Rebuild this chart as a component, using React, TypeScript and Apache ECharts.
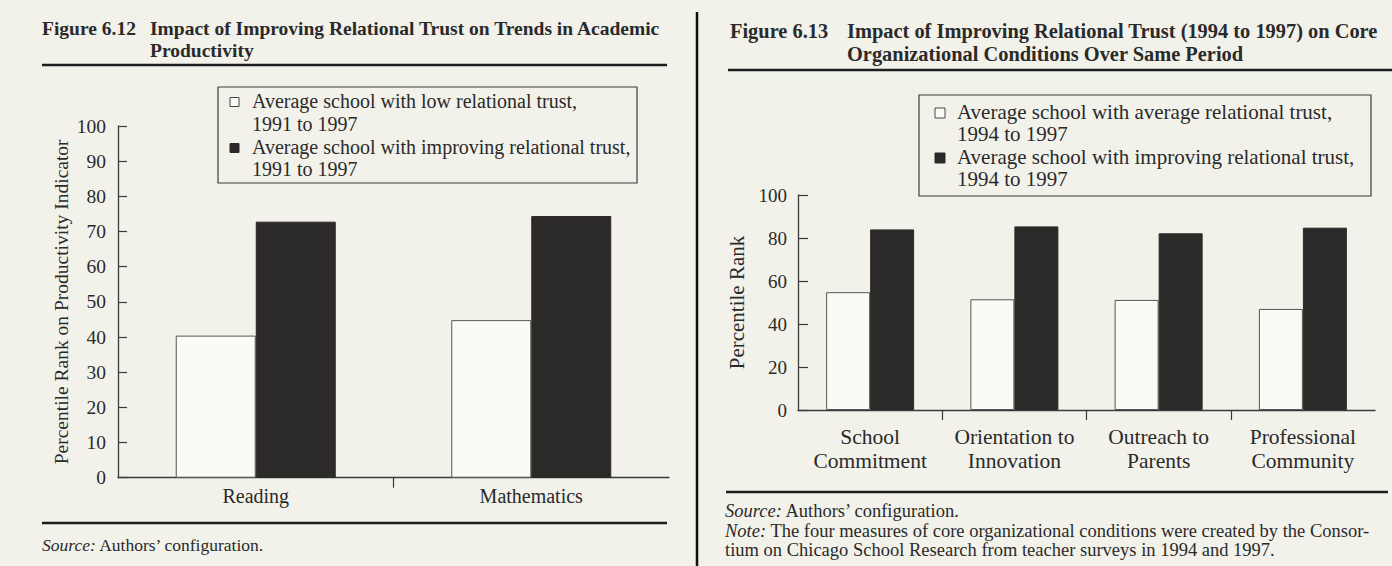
import React, { useEffect, useRef } from "react";
import * as echarts from "echarts";

const leftCategories = ["Reading", "Mathematics"];
const leftLowTrust = [40.4, 44.8];
const leftImproving = [72.8, 74.4];
const leftSeriesNames = [
  "Average school with low relational trust, 1991 to 1997",
  "Average school with improving relational trust, 1991 to 1997",
];
const leftLegendLines = [
  ["Average school with low relational trust,", "1991 to 1997"],
  ["Average school with improving relational trust,", "1991 to 1997"],
];
const leftYName = "Percentile Rank on Productivity Indicator";
const leftTitle = ["Impact of Improving Relational Trust on Trends in Academic", "Productivity"];

const rightCategories = ["School\nCommitment", "Orientation to\nInnovation", "Outreach to\nParents", "Professional\nCommunity"];
const rightAverageTrust = [54.8, 51.5, 51.2, 47];
const rightImproving = [84, 85.4, 82.2, 84.8];
const rightSeriesNames = [
  "Average school with average relational trust, 1994 to 1997",
  "Average school with improving relational trust, 1994 to 1997",
];
const rightLegendLines = [
  ["Average school with average relational trust,", "1994 to 1997"],
  ["Average school with improving relational trust,", "1994 to 1997"],
];
const rightYName = "Percentile Rank";
const rightTitle = ["Impact of Improving Relational Trust (1994 to 1997) on Core", "Organizational Conditions Over Same Period"];
const rightNote = [
  "The four measures of core organizational conditions were created by the Consor-",
  "tium on Chicago School Research from teacher surveys in 1994 and 1997.",
];

const FONT = "'Liberation Serif', 'DejaVu Serif', serif";
const INK = "#2a2a2a";
const BG = "#f2f2eb";
const DARK = "#2c2929";
const AXIS = "#3a3a3a";

function txt(x: number, y: number, text: string, size: number, extra: any = {}) {
  return {
    type: "text",
    x,
    y,
    silent: true,
    style: {
      text,
      fontFamily: FONT,
      fontSize: size,
      fill: INK,
      verticalAlign: "middle",
      align: "left",
      ...extra,
    },
  };
}

function richTxt(x: number, y: number, label: string, rest: string, size: number) {
  return {
    type: "text",
    x,
    y,
    silent: true,
    style: {
      text: "{i|" + label + "} " + rest,
      fontFamily: FONT,
      fontSize: size,
      fill: INK,
      verticalAlign: "middle",
      rich: { i: { fontStyle: "italic", fontFamily: FONT, fontSize: size, fill: INK } },
    },
  };
}

function hline(x1: number, x2: number, y: number, w: number) {
  return { type: "line", silent: true, shape: { x1, y1: y, x2, y2: y }, style: { stroke: "#1e1e1e", lineWidth: w } };
}

function legendBlock(
  x: number, y: number, w: number, h: number, lines: string[][], size: number,
  lineYs: number[], iconX: number, iconSize: number, textX: number
) {
  const els: any[] = [
    { type: "rect", silent: true, shape: { x, y, width: w, height: h }, style: { fill: "none", stroke: "#3a3a3a", lineWidth: 1.2 } },
  ];
  lines.forEach((pair, i) => {
    const cy = lineYs[i * 2];
    els.push({
      type: "rect",
      silent: true,
      shape: { x: iconX, y: cy - iconSize / 2 + 1, width: iconSize, height: iconSize },
      style: i === 0 ? { fill: "#fbfbf6", stroke: "#444", lineWidth: 1 } : { fill: DARK, stroke: DARK, lineWidth: 1 },
    });
    els.push(txt(textX, cy, pair[0], size));
    els.push(txt(textX, lineYs[i * 2 + 1], pair[1], size));
  });
  return els;
}

function boundaryAxis(gridIndex: number, n: number) {
  return {
    type: "category",
    gridIndex,
    position: "bottom",
    boundaryGap: false,
    data: Array.from({ length: n + 1 }, () => ""),
    axisLine: { show: false },
    axisLabel: { show: false },
    splitLine: { show: false },
    axisTick: { show: true, length: 10, interval: (i: number) => i > 0 && i < n, lineStyle: { color: AXIS, width: 1.2 } },
  };
}

export default function App() {
  const ref = useRef<HTMLDivElement>(null);
  useEffect(() => {
    if (!ref.current) return;
    const chart = echarts.init(ref.current, undefined, { renderer: "svg" });
    const axisLine = { show: true, lineStyle: { color: AXIS, width: 1.3 } };
    const option: any = {
      animation: false,
      backgroundColor: BG,
      grid: [
        { left: 118, top: 126, width: 551, height: 351.7 },
        { left: 798, top: 195, width: 577, height: 215 },
      ],
      xAxis: [
        {
          type: "category",
          gridIndex: 0,
          data: leftCategories,
          axisLine,
          axisTick: { show: false },
          axisLabel: { color: INK, fontFamily: FONT, fontSize: 20, margin: 8, interval: 0 },
        },
        {
          type: "category",
          gridIndex: 1,
          data: rightCategories,
          axisLine,
          axisTick: { show: false },
          axisLabel: { color: INK, fontFamily: FONT, fontSize: 21.5, margin: 15, lineHeight: 24, interval: 0 },
        },
        boundaryAxis(0, leftCategories.length),
        boundaryAxis(1, rightCategories.length),
      ],
      yAxis: [
        {
          type: "value",
          gridIndex: 0,
          min: 0,
          max: 100,
          interval: 10,
          splitLine: { show: false },
          axisLine,
          axisTick: { show: true, inside: true, length: 9, lineStyle: { color: AXIS, width: 1.2 } },
          axisLabel: { color: INK, fontFamily: FONT, fontSize: 19.5, margin: 12 },
          name: leftYName,
          nameLocation: "middle",
          nameGap: 47,
          nameTextStyle: { color: INK, fontFamily: FONT, fontSize: 19.5 },
        },
        {
          type: "value",
          gridIndex: 1,
          min: 0,
          max: 100,
          interval: 20,
          splitLine: { show: false },
          axisLine,
          axisTick: { show: true, inside: true, length: 10, lineStyle: { color: AXIS, width: 1.2 } },
          axisLabel: { color: INK, fontFamily: FONT, fontSize: 19, margin: 11 },
          name: rightYName,
          nameLocation: "middle",
          nameGap: 51,
          nameTextStyle: { color: INK, fontFamily: FONT, fontSize: 21 },
        },
      ],
      series: [
        {
          type: "bar",
          name: leftSeriesNames[0],
          xAxisIndex: 0,
          yAxisIndex: 0,
          data: leftLowTrust,
          barWidth: 80,
          barGap: "0%",
          itemStyle: { color: "#fbfbf6", borderColor: "#555", borderWidth: 1 },
        },
        {
          type: "bar",
          name: leftSeriesNames[1],
          xAxisIndex: 0,
          yAxisIndex: 0,
          data: leftImproving,
          barWidth: 80,
          barGap: "0%",
          itemStyle: { color: DARK, borderColor: DARK, borderWidth: 1 },
        },
        {
          type: "bar",
          name: rightSeriesNames[0],
          xAxisIndex: 1,
          yAxisIndex: 1,
          data: rightAverageTrust,
          barWidth: 44,
          barGap: "0%",
          itemStyle: { color: "#fbfbf6", borderColor: "#555", borderWidth: 1 },
        },
        {
          type: "bar",
          name: rightSeriesNames[1],
          xAxisIndex: 1,
          yAxisIndex: 1,
          data: rightImproving,
          barWidth: 44,
          barGap: "0%",
          itemStyle: { color: DARK, borderColor: DARK, borderWidth: 1 },
        },
      ],
      graphic: [
        { type: "line", silent: true, shape: { x1: 697, y1: 12, x2: 697, y2: 566 }, style: { stroke: "#111", lineWidth: 2.5 } },
        txt(42, 28, "Figure 6.12", 19.5, { fontWeight: "bold" }),
        txt(150, 28, leftTitle[0], 19.5, { fontWeight: "bold" }),
        txt(150, 50, leftTitle[1], 19.5, { fontWeight: "bold" }),
        hline(42, 667, 65, 2.5),
        ...legendBlock(218, 87, 419, 96, leftLegendLines, 20, [101, 124, 147, 169], 230, 9, 252),
        hline(42, 667, 523, 2.5),
        richTxt(42, 545, "Source:", "Authors\u2019 configuration.", 17.5),
        txt(730, 31, "Figure 6.13", 20.4, { fontWeight: "bold" }),
        txt(847, 31, rightTitle[0], 20.4, { fontWeight: "bold" }),
        txt(847, 54, rightTitle[1], 20.4, { fontWeight: "bold" }),
        hline(728, 1392, 70, 2.5),
        ...legendBlock(919, 95, 452, 101, rightLegendLines, 21, [112, 134, 157, 179], 935, 10, 957),
        hline(726, 1388, 492, 2.5),
        richTxt(725, 511, "Source:", "Authors\u2019 configuration.", 18.5),
        richTxt(725, 530.5, "Note:", rightNote[0], 18.5),
        txt(725, 550, rightNote[1], 18.5),
      ],
    };
    chart.setOption(option);
    return () => chart.dispose();
  }, []);
  return <div ref={ref} style={{ position: "fixed", left: 0, top: 0, width: 1392, height: 566 }} />;
}
